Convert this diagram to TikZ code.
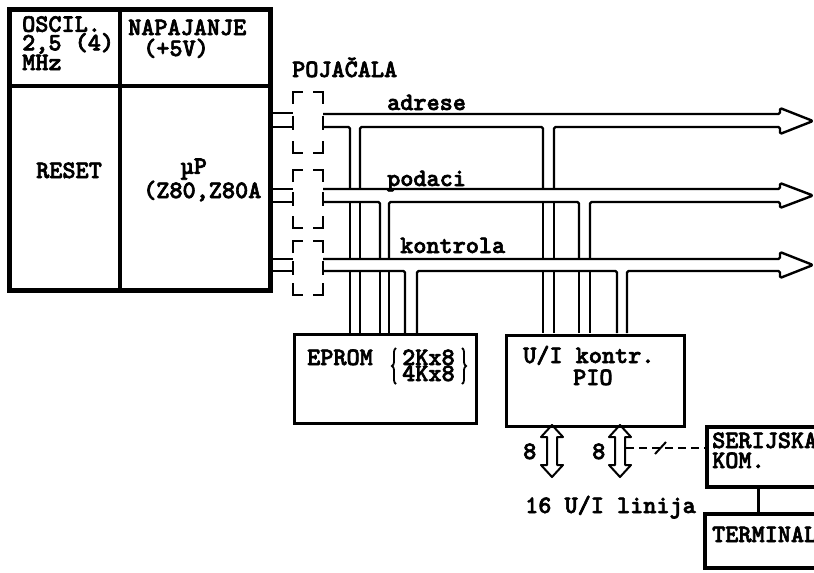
\documentclass[tikz,border=0pt]{standalone}
\usepackage{fontspec}
\newfontfamily\tw{lmmonolt10-bold.otf}[FakeBold=2.5]
\usetikzlibrary{decorations.pathreplacing,calc}
\newcommand\twsize[1]{\tw\fontsize{25}{#1}\selectfont}
\tikzset{
  lbl/.style={anchor=base west, inner sep=0pt, align=left, font=\twsize{18}},
  bus/.style={line width=2.4pt, line join=round, rounded corners=1.5pt},
  boxline/.style={draw, line width=3pt, inner sep=0pt},
  ampline/.style={line width=2.8pt},
  amp/.pic={
    \draw[ampline] (0,12)--(0,0)--(10,0);
    \draw[ampline] (20,0)--(30,0)--(30,12);
    \draw[ampline] (0,{#1-12})--(0,#1)--(10,#1);
    \draw[ampline] (20,#1)--(30,#1)--(30,{#1-12});
    \draw[ampline] (0,{#1/2-7})--(0,{#1/2+7});
    \draw[ampline] (30,{#1/2-7})--(30,{#1/2+7});
  },
  dbl/.pic={
    \draw[line width=2pt, line join=round] (0,0) -- (11,12) -- (5,12) -- (5,40) -- (11,40) -- (0,52)
      -- (-11,40) -- (-5,40) -- (-5,12) -- (-11,12) -- cycle;
  }
}
\begin{document}
\begin{tikzpicture}[x=1pt,y=-1pt]
\fill[white] (0,0) rectangle (814,573);
\useasboundingbox (0,0) rectangle (814,573);
\clip (0,0) rectangle (814,573);

% main unit
\node[draw, line width=5pt, minimum width=261pt, minimum height=281pt, inner sep=0pt] (cpu) at (139.5,149.5) {};
\draw[line width=3.5pt] (120,9) -- (120,290);
\draw[line width=3.5pt] (9,86) -- (270,86);
\node[lbl, font=\twsize{17.5}] (osc) at (22,70) {OSCIL.\\2,5 (4)\\MHz};
\node[lbl, font=\twsize{21}] (nap) at (128,56) {NAPAJANJE\\\hspace*{0.6em}(+5V)};
\node[lbl] (rst) at (36,178) {RESET};
\node[lbl, font=\twsize{20}] (mup) at (143,198) {\hspace*{1.5em}µP\\(Z80,Z80A};

% amplifiers
\node[lbl] (poj) at (292,77) {POJAČALA};
\pic at (293,92) {amp=61};
\pic at (293,170) {amp=58};
\pic at (293,241) {amp=54};
\draw[bus] (270,113) -- (293,113) (270,127) -- (293,127);
\draw[bus] (270,189) -- (293,189) (270,202) -- (293,202);
\draw[bus] (270,259) -- (293,259) (270,271) -- (293,271);

% boxes
\node[boxline, minimum width=182pt, minimum height=89pt, anchor=north west] (eprom) at (293,333) {};
\node[boxline, minimum width=178pt, minimum height=91pt, anchor=north west] (pio) at (505,334) {};

% bus: adrese
\draw[bus] (323,114) -- (780,114) -- (780,108) -- (813,121) -- (780,134) -- (780,127) -- (554,127) -- (554,189);
\draw[bus] (543,189) -- (543,127) -- (360,127) -- (360,189);
\draw[bus] (350,189) -- (350,127) -- (323,127);
\foreach \x in {350,360,543,554} {
  \draw[bus] (\x,202) -- (\x,259);
  \draw[bus] (\x,271) -- (\x,333);
}
\node[lbl] (adr) at (387,110) {adrese};

% bus: podaci
\draw[bus] (323,189) -- (780,189) -- (780,183) -- (813,195.5) -- (780,208) -- (780,202) -- (590,202) -- (590,259);
\draw[bus] (579,259) -- (579,202) -- (389,202) -- (389,259);
\draw[bus] (380,259) -- (380,202) -- (323,202);
\foreach \x in {380,389,579,590} {
  \draw[bus] (\x,271) -- (\x,333);
}
\node[lbl] (pod) at (387,186) {podaci};

% bus: kontrola
\draw[bus] (323,259) -- (780,259) -- (780,252) -- (813,265) -- (780,278) -- (780,271) -- (627,271) -- (627,333);
\draw[bus] (617,333) -- (617,271) -- (417,271) -- (417,333);
\draw[bus] (405,333) -- (405,271) -- (323,271);
\node[lbl] (kon) at (400,253) {kontrola};

% EPROM text
\node[lbl] (ep) at (307,365) {EPROM};
\node[lbl, font=\twsize{16}] (ep1) at (402,381) {2Kx8\\4Kx8};
\draw[line width=1.8pt, decorate, decoration={brace, amplitude=4pt}] (396,384) -- (396,348);
\draw[line width=1.8pt, decorate, decoration={brace, amplitude=4pt}] (462,348) -- (462,384);

% PIO text
\node[lbl, font=\twsize{22}] (pio1) at (523,385) {U/I kontr.\\\hspace*{2em}PIO};

% I/O arrows
\pic at (552,425) {dbl};
\pic at (620,425) {dbl};
\node[lbl] (n8a) at (523,459) {8};
\node[lbl] (n8b) at (592,459) {8};
\node[lbl] (lin) at (525,513) {16 U/I linija};

% serial & terminal
\node[draw, line width=4pt, minimum width=140pt, minimum height=60pt, anchor=north west, inner sep=0pt] (ser) at (705,425) {};
\node[lbl, font=\twsize{20}] (ser1) at (712,468) {SERIJSKA\\KOM.};
\node[draw, line width=4pt, minimum width=140pt, minimum height=54pt, anchor=north west, inner sep=0pt] (term) at (703,512) {};
\node[lbl] (term1) at (712,542) {TERMINAL};
\coordinate (sk) at (758,0);
\draw[line width=3pt] (sk |- ser.south) -- (sk |- term.north);
\coordinate (dl) at (626,448);
\draw[line width=2pt, dash pattern=on 8pt off 5pt] (dl) -- (dl -| ser.west);
\draw[line width=2pt] (655,454) -- (666,442);
\end{tikzpicture}
\end{document}
